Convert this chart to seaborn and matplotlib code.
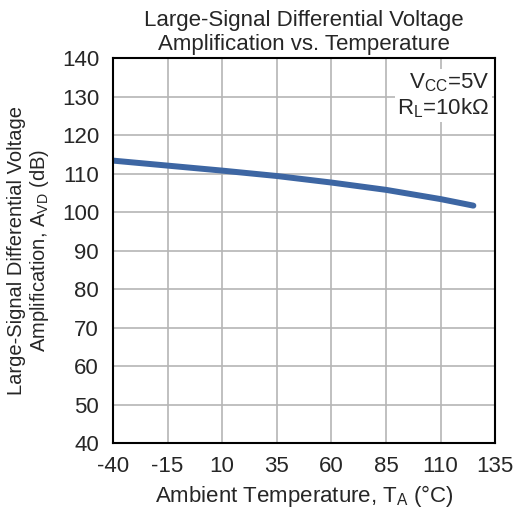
import pandas as pd
import numpy as np
import matplotlib
matplotlib.use("Agg")
import matplotlib.pyplot as plt
import seaborn as sns

# data
temperature = [-40, -15, 10, 35, 60, 85, 110, 125]
avd_db = [113.4, 112.1, 110.8, 109.4, 107.7, 105.8, 103.4, 101.7]

x_ticks = [-40, -15, 10, 35, 60, 85, 110, 135]
y_ticks = [40, 50, 60, 70, 80, 90, 100, 110, 120, 130, 140]

df = pd.DataFrame({"Temperature": temperature, "AVD": avd_db})

sns.set_style("white")
plt.rcParams["font.family"] = ["Liberation Sans", "DejaVu Sans"]
plt.rcParams["mathtext.fontset"] = "custom"
plt.rcParams["mathtext.rm"] = "Liberation Sans"
plt.rcParams["mathtext.it"] = "Liberation Sans"
plt.rcParams["axes.unicode_minus"] = False

fig = plt.figure(figsize=(5.18, 5.11), dpi=100)
ax = fig.add_axes([0.218, 0.133, 0.738, 0.753])

sns.lineplot(data=df, x="Temperature", y="AVD", ax=ax,
             color="#3d66a3", linewidth=4.3, solid_capstyle="round")

ax.set_xlim(-40, 135)
ax.set_ylim(40, 140)
ax.set_xticks(x_ticks)
ax.set_yticks(y_ticks)
ax.grid(True, color="#b5b5b5", linewidth=1.2)
ax.set_axisbelow(True)
for s in ax.spines.values():
    s.set_color("black")
    s.set_linewidth(1.5)

ax.tick_params(axis="x", labelsize=16, length=0, pad=9)
ax.tick_params(axis="y", labelsize=16, length=0, pad=10)

ax.set_title("Large-Signal Differential Voltage\nAmplification vs. Temperature",
             fontsize=16, pad=6, linespacing=1.2)
ax.set_xlabel(r"Ambient Temperature, T$_\mathrm{A}$ (°C)", fontsize=16, labelpad=5)
ax.set_ylabel("Large-Signal Differential Voltage\n" + r"Amplification, A$_\mathrm{VD}$ (dB)",
              fontsize=14.5, labelpad=8, linespacing=1.1)

ax.text(0.985, 0.965, r"V$_\mathrm{CC}$=5V" + "\n" + r"R$_\mathrm{L}$=10kΩ",
        transform=ax.transAxes, ha="right", va="top", fontsize=16,
        linespacing=1.1,
        bbox=dict(facecolor="white", edgecolor="none", pad=2))

fig.savefig("out.png", dpi=100)
